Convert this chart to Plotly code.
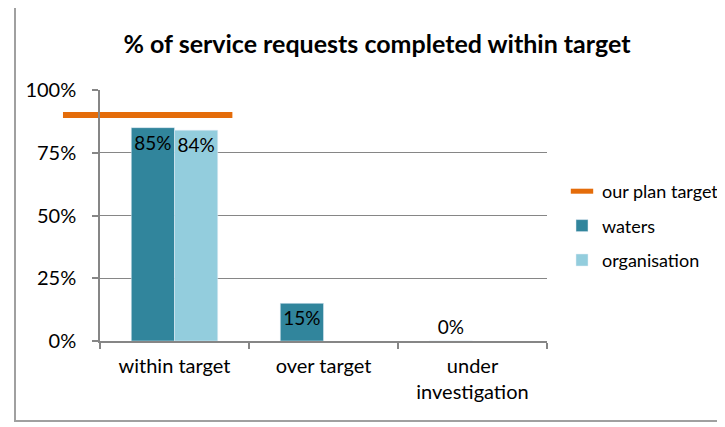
import plotly.graph_objects as go

categories = ["within target", "over target", "under investigation"]
category_labels = ["within target", "over target", "under<br>investigation"]
waters = [85, 15, 0]
organisation = [84, None, None]
target_category = "within target"
target_value = 90
y_ticks = [0, 25, 50, 75, 100]
y_tick_labels = ["0%", "25%", "50%", "75%", "100%"]

# page body has an 8px margin: compensate so the picture lands where intended
OFF = 8
W, H = 725 - OFF, 427 - OFF
L, R, T, B = 100 - OFF, 178, 90 - OFF, 86
pw, ph = W - L - R, H - T - B

def px_x(x):
    return (x - OFF - L) / pw

def px_y(y):
    return (OFF + H - B - y) / ph

FONT = "Lato"
GRID = "#868686"
FS = 19
AX = 20

fig = go.Figure()
fig.add_trace(go.Bar(
    name="waters", x=categories, y=waters, marker_color="#31859C",
    text=[f"{v}%" for v in waters], textposition=["inside", "inside", "outside"],
    insidetextanchor="end", textangle=0, cliponaxis=False,
    textfont=dict(color="black", size=FS, family=FONT),
    legendrank=2, legendgroup="b",
))
fig.add_trace(go.Bar(
    name="organisation", x=categories, y=organisation, marker_color="#93CDDD",
    text=[f"{v}%" if v is not None else "" for v in organisation],
    textposition="inside", insidetextanchor="end", textangle=0,
    textfont=dict(color="black", size=FS, family=FONT),
    legendrank=3, legendgroup="c",
))
idx = categories.index(target_category)
fig.add_trace(go.Scatter(
    name="our plan target", x=[idx - 0.18], y=[target_value], xaxis="x2",
    mode="markers", cliponaxis=False,
    marker=dict(symbol="line-ew", size=121, line=dict(color="#E46C0A", width=6), color="#E46C0A"),
    legendrank=1, legendgroup="a", hoverinfo="skip",
))

fig.update_layout(
    width=W, height=H, margin=dict(l=L, r=R, t=T, b=B, autoexpand=False),
    paper_bgcolor="white", plot_bgcolor="white",
    font=dict(family=FONT, size=FS, color="black"),
    title=dict(text="<b>% of service requests completed within target</b>",
               x=px_x(377), xref="paper", xanchor="center", y=1 - (44 - OFF) / H, yanchor="middle",
               font=dict(size=25, family=FONT, color="black")),
    barmode="group", bargap=0.42, bargroupgap=0,
    showlegend=True,
    legend=dict(x=px_x(562), xanchor="left", y=px_y(173), yanchor="top",
                font=dict(size=18, family=FONT), tracegroupgap=8,
                bgcolor="rgba(0,0,0,0)"),
    xaxis=dict(type="category", categoryorder="array", categoryarray=categories,
               tickvals=categories, ticktext=category_labels,
               showline=True, linecolor=GRID, linewidth=1.5,
               ticks="outside", tickson="boundaries", ticklen=6, tickcolor=GRID, tickwidth=1.5,
               ticklabelstandoff=6,
               showgrid=False, tickfont=dict(size=AX, family=FONT), range=[-0.5, 2.5]),
    xaxis2=dict(overlaying="x", type="linear", range=[-0.5, 2.5], visible=False),
    yaxis=dict(range=[0, 100], tickvals=y_ticks, ticktext=y_tick_labels,
               showline=True, linecolor=GRID, linewidth=1.5,
               ticks="outside", ticklen=6, tickcolor=GRID, tickwidth=1.5,
               ticklabelstandoff=12,
               showgrid=True, gridcolor=GRID, gridwidth=1.2, zeroline=False,
               tickfont=dict(size=AX, family=FONT)),
    shapes=[dict(type="rect", xref="paper", yref="paper",
                 x0=px_x(15), x1=px_x(740), y0=px_y(421), y1=px_y(4),
                 line=dict(color="#A0A0A0", width=2), fillcolor="rgba(0,0,0,0)", layer="below")],
)

fig.write_html("out.html")
